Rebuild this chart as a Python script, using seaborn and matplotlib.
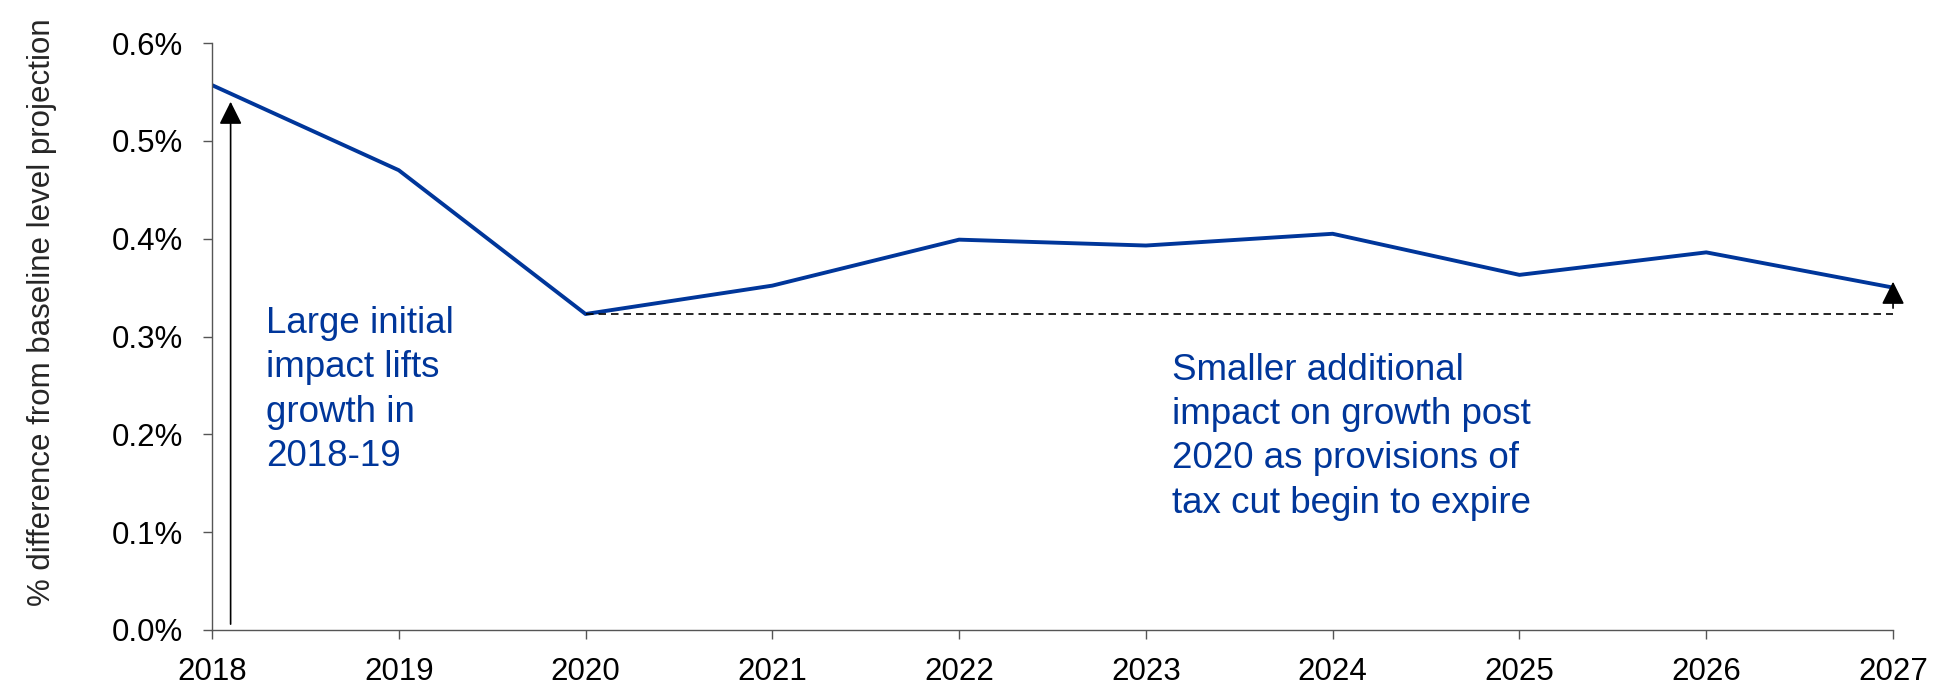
import matplotlib
matplotlib.use("Agg")
import matplotlib.pyplot as plt
import seaborn as sns
import pandas as pd
from matplotlib.ticker import FuncFormatter

years = [2018, 2019, 2020, 2021, 2022, 2023, 2024, 2025, 2026, 2027]
impact = [0.557, 0.470, 0.323, 0.352, 0.399, 0.393, 0.405, 0.363, 0.386, 0.350]
yticks = [0.0, 0.1, 0.2, 0.3, 0.4, 0.5, 0.6]
ylabel = "% difference from baseline level projection"
note_left = "Large initial\nimpact lifts\ngrowth in\n2018-19"
note_right = "Smaller additional\nimpact on growth post\n2020 as provisions of\ntax cut begin to expire"

sns.set_theme(style="white")
plt.rcParams['font.family'] = ['Liberation Sans', 'DejaVu Sans']

BLUE = "#00369A"
df = pd.DataFrame({"year": years, "impact": impact})

fig = plt.figure(figsize=(19.39, 6.85), dpi=100)
ax = fig.add_axes([0.1093, 0.0803, 0.867, 0.8569])

sns.lineplot(data=df, x="year", y="impact", ax=ax, color=BLUE, linewidth=2.8)

# dashed reference line at 2020 level
base = impact[2]
ax.plot([years[2], years[-1]], [base, base], color="black", linestyle=(0, (4.5, 3)), linewidth=1.2)

# arrows
ax.annotate("", xy=(2018.1, 0.540), xytext=(2018.1, 0.006),
            arrowprops=dict(arrowstyle="-|>,head_length=0.7,head_width=0.35", color="black", lw=1.2,
                            shrinkA=0, shrinkB=0, mutation_scale=20))
ax.annotate("", xy=(2027, 0.356), xytext=(2027, base + 0.006),
            arrowprops=dict(arrowstyle="-|>,head_length=0.7,head_width=0.35", color="black", lw=1.2,
                            shrinkA=0, shrinkB=0, mutation_scale=20))

ax.text(2018.29, 0.331, note_left, color=BLUE, fontsize=26.5, va="top", ha="left", linespacing=1.34)
ax.text(2023.14, 0.283, note_right, color=BLUE, fontsize=26.5, va="top", ha="left", linespacing=1.34)

ax.set_xlim(2018, 2027)
ax.set_ylim(0, 0.6)
ax.set_xticks(years)
ax.set_xticklabels([str(y) for y in years])
ax.set_yticks(yticks)
ax.yaxis.set_major_formatter(FuncFormatter(lambda v, p: f"{v:.1f}%"))
ax.set_xlabel("")
ax.set_ylabel(ylabel, fontsize=22.5, va="center")
ax.yaxis.set_label_coords(-0.101, 0.542)

for s in ["top", "right"]:
    ax.spines[s].set_visible(False)
for s in ["left", "bottom"]:
    ax.spines[s].set_color("#555555")
    ax.spines[s].set_linewidth(1.0)
ax.tick_params(axis="both", which="major", direction="out", length=6.5, width=1.0,
               color="#555555", labelsize=22.5, labelcolor="black", bottom=True, left=True)
ax.tick_params(axis="x", pad=13)
ax.tick_params(axis="y", pad=14)

fig.savefig("out.png", dpi=100)
